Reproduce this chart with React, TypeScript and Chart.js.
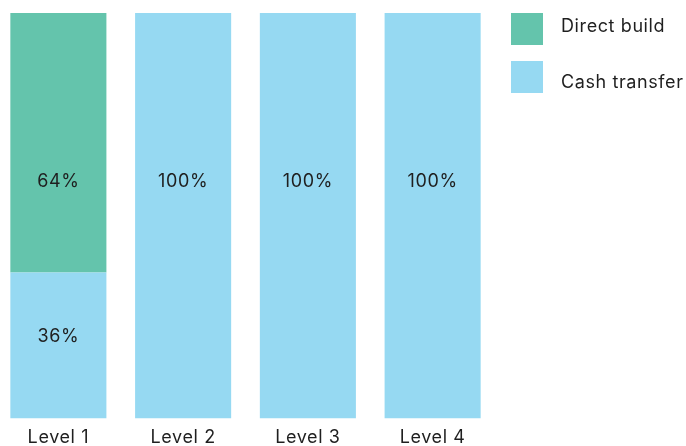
import React, { useEffect, useRef } from "react";
import { Chart, registerables } from "chart.js";

Chart.register(...registerables);

const categories = ["Level 1", "Level 2", "Level 3", "Level 4"];
const cashTransfer = [36, 100, 100, 100];
const directBuild = [64, 0, 0, 0];
const seriesLabels = ["Cash transfer", "Direct build"];
const seriesColors = ["#96D9F2", "#64C4AC"];

const FONT = "Inter, 'Open Sans', sans-serif";
const FONT_SIZE = 18;
const LETTER_SPACING = "0.6px";
const TEXT_COLOR = "#1f1f1f";

const spacing = {
  id: "spacing",
  beforeDraw(chart: any) {
    chart.ctx.letterSpacing = LETTER_SPACING;
  },
  beforeLayout(chart: any) {
    chart.ctx.letterSpacing = LETTER_SPACING;
  },
};

const valueLabels = {
  id: "valueLabels",
  afterDatasetsDraw(chart: any) {
    const ctx = chart.ctx;
    const yScale = chart.scales.y;
    ctx.save();
    ctx.letterSpacing = LETTER_SPACING;
    ctx.font = `${FONT_SIZE}px ${FONT}`;
    ctx.fillStyle = TEXT_COLOR;
    ctx.textAlign = "center";
    ctx.textBaseline = "middle";
    const cum = categories.map(() => 0);
    chart.data.datasets.forEach((ds: any, di: number) => {
      const meta = chart.getDatasetMeta(di);
      meta.data.forEach((el: any, i: number) => {
        const v = ds.data[i];
        cum[i] += v;
        if (!v) return;
        const y = yScale.getPixelForValue(cum[i] * 0.598 - 1.3);
        ctx.fillText(`${v}%`, el.x, y);
      });
    });
    ctx.restore();
  },
};

// legend: datasets listed top-down from the top of the stack
const sideLegend = {
  id: "sideLegend",
  afterDraw(chart: any) {
    const ctx = chart.ctx;
    const area = chart.chartArea;
    const box = 32;
    const gap = 48;
    const textGap = 56.5;
    const x0 = area.right + 16;
    ctx.save();
    ctx.letterSpacing = LETTER_SPACING;
    ctx.font = `${FONT_SIZE}px ${FONT}`;
    ctx.textAlign = "left";
    ctx.textBaseline = "alphabetic";
    const items = chart.data.datasets.slice().reverse();
    items.forEach((ds: any, i: number) => {
      const y = area.top + i * gap;
      ctx.fillStyle = ds.backgroundColor;
      ctx.fillRect(x0, y, box, box);
      ctx.fillStyle = TEXT_COLOR;
      ctx.fillText(ds.label, x0 + box + 18, area.top + 18.7 + i * textGap);
    });
    ctx.restore();
  },
};

export default function App() {
  const ref = useRef<HTMLCanvasElement>(null);
  useEffect(() => {
    if (!ref.current) return;
    const chart = new Chart(ref.current, {
      type: "bar",
      data: {
        labels: categories,
        datasets: [
          {
            label: seriesLabels[0],
            data: cashTransfer,
            backgroundColor: seriesColors[0],
            categoryPercentage: 1,
            barPercentage: 0.77,
          },
          {
            label: seriesLabels[1],
            data: directBuild,
            backgroundColor: seriesColors[1],
            categoryPercentage: 1,
            barPercentage: 0.77,
          },
        ],
      },
      options: {
        animation: false,
        responsive: false,
        devicePixelRatio: 1,
        layout: { padding: { top: 13, left: 0, right: 191, bottom: -10 } },
        plugins: {
          legend: { display: false },
          tooltip: { enabled: false },
        },
        scales: {
          x: {
            stacked: true,
            grid: { display: false, drawTicks: false },
            border: { display: false },
            ticks: {
              padding: 8,
              color: TEXT_COLOR,
              font: { family: FONT, size: FONT_SIZE, lineHeight: 1.2 },
            },
          },
          y: {
            stacked: true,
            display: false,
            min: 0,
            max: 100,
          },
        },
      },
      plugins: [spacing, valueLabels, sideLegend],
    });
    return () => chart.destroy();
  }, []);
  return (
    <div style={{ position: "absolute", top: 0, left: 0, width: 686, height: 446, overflow: "hidden", background: "#fff" }}>
      <canvas ref={ref} width={690} height={446} style={{ position: "absolute", left: -4, top: 0 }} />
    </div>
  );
}
